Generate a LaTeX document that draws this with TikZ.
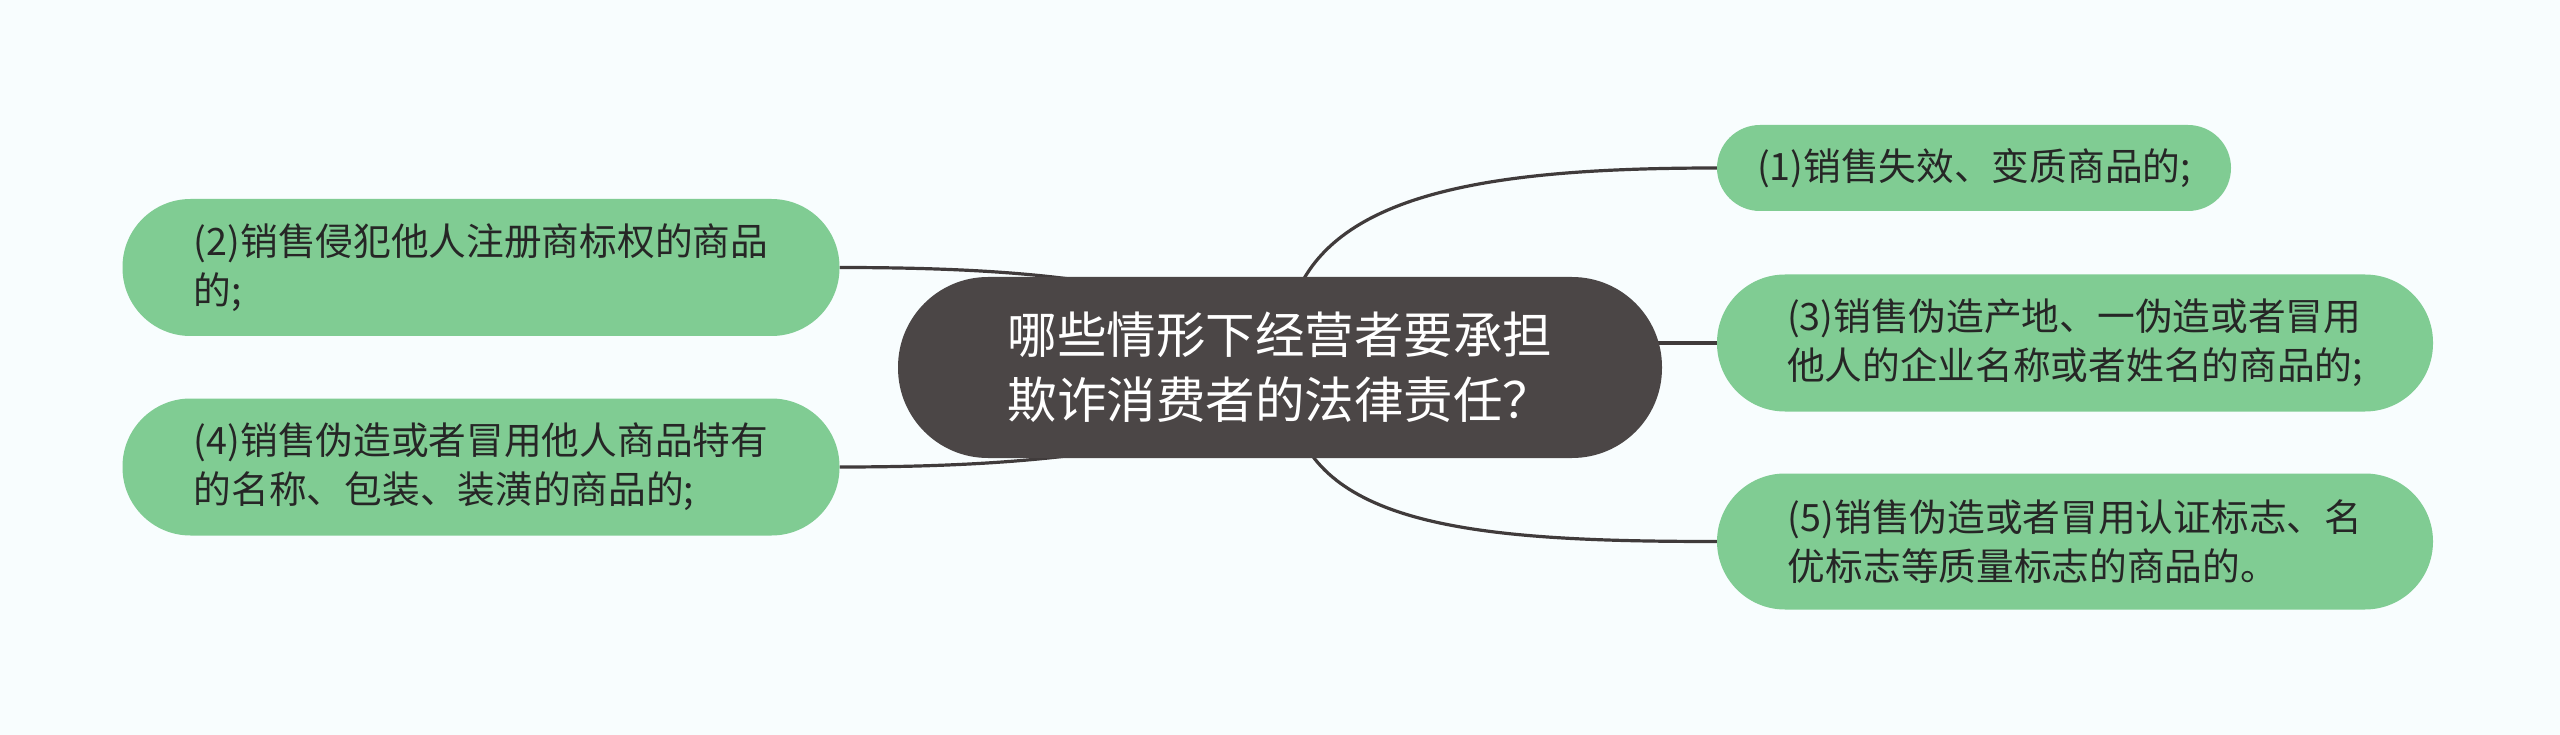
\documentclass[tikz,border=0pt]{standalone}
\usepackage{fontspec}
\setmainfont{Noto Sans CJK SC}
\usetikzlibrary{calc}
\pgfdeclarelayer{bg}
\pgfdeclarelayer{lines}
\pgfsetlayers{bg,lines,main}
\definecolor{bgc}{HTML}{F8FDFE}
\definecolor{leaf}{HTML}{80CC93}
\definecolor{rootc}{HTML}{4B4646}
\definecolor{txt}{HTML}{262626}
\definecolor{linec}{HTML}{403B3B}
\tikzset{
  rootbox/.style={fill=rootc, text=white, rounded corners=90pt, minimum width=764pt,
    minimum height=181pt, inner sep=0pt, align=left, font=\fontsize{49.5}{65}\selectfont},
  leafbox/.style={fill=leaf, text=txt, inner sep=0pt, align=left,
    font=\fontsize{37.7}{49}\selectfont},
  conn/.style={draw=linec, line width=3.2pt},
}
\begin{document}
\begin{tikzpicture}[x=1pt,y=-1pt]
\useasboundingbox (0,0) rectangle (2560,735);
\begin{pgfonlayer}{bg}
  \fill[bgc] (0,0) rectangle (2560,735);
\end{pgfonlayer}

\node[rootbox] (c) at (1280,367.5) {哪些情形下经营者要承担\\欺诈消费者的法律责任？};

\node[leafbox, minimum width=514pt, minimum height=86pt, rounded corners=43pt] (n1) at (1974,168)
  {(1)销售失效、变质商品的;};
\node[leafbox, minimum width=717pt, minimum height=137pt, rounded corners=68pt] (n2) at (481,267.5)
  {(2)销售侵犯他人注册商标权的商品\\的;};
\node[leafbox, minimum width=716pt, minimum height=137pt, rounded corners=68pt] (n3) at (2075,343)
  {(3)销售伪造产地、一伪造或者冒用\\他人的企业名称或者姓名的商品的;};
\node[leafbox, minimum width=717pt, minimum height=137pt, rounded corners=68pt] (n4) at (481,467)
  {(4)销售伪造或者冒用他人商品特有\\的名称、包装、装潢的商品的;};
\node[leafbox, minimum width=716pt, minimum height=136pt, rounded corners=68pt] (n5) at (2075,541.5)
  {(5)销售伪造或者冒用认证标志、名\\优标志等质量标志的商品的。};

\coordinate (e2) at ($(c.center)+(-170,-82.5)$);
\coordinate (e4) at ($(c.center)+(-170,82.5)$);
\coordinate (s1) at ($(c.center)+(14,-67.5)$);
\coordinate (s5) at ($(c.center)+(18,62.5)$);
\coordinate (s3) at ($(n3.west)+(-90,0)$);

\begin{pgfonlayer}{lines}
  \draw[conn] (n2.east) .. controls +(118,0) and +(-70,-12) .. (e2);
  \draw[conn] (n4.east) .. controls +(118,0) and +(-70,11) .. (e4);
  \draw[conn] (s1) .. controls +(40,-110) and +(-217,0) .. (n1.west);
  \draw[conn] (s5) .. controls +(40,100) and +(-217,0) .. (n5.west);
  \draw[conn] (s3) -- (n3.west);
\end{pgfonlayer}
\end{tikzpicture}
\end{document}
